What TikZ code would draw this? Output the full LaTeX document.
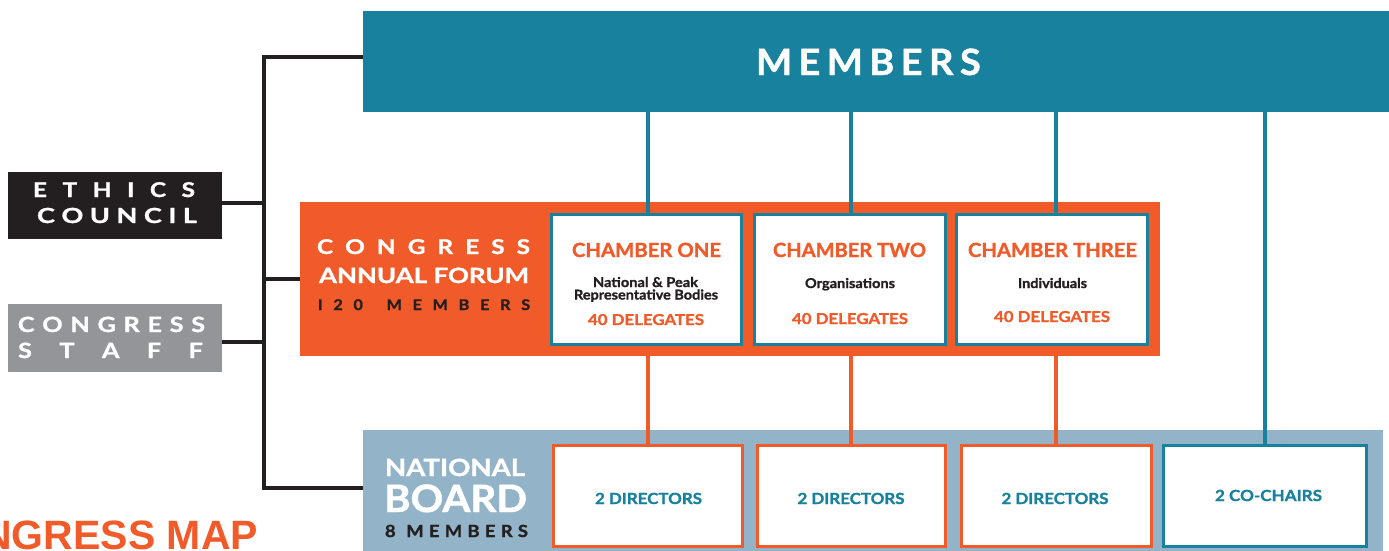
\documentclass[tikz,border=0pt]{standalone}
\usepackage{fontspec}
\usepackage{graphicx}
\setmainfont{Lato}[BoldFeatures={FakeBold=1.2}]
\newfontfamily\titlefont{Liberation Sans}
\definecolor{cteal}{HTML}{17819E}
\definecolor{corange}{HTML}{F15A29}
\definecolor{cblue}{HTML}{93B4C8}
\definecolor{cblack}{HTML}{231F20}
\definecolor{cgray}{HTML}{939598}
\newcommand\spreadtext[2]{\makebox[#1][s]{#2}}
\newcommand\wspread[3]{\scalebox{#2}[1]{\makebox[#1][s]{#3}}}
\newcommand\fitw[2]{\resizebox{#1}{\height}{#2}}
\newcommand\fs[1]{\fontsize{#1}{#1}\selectfont\bfseries}
\tikzset{
  panel/.style={rectangle, inner sep=0pt, outer sep=0pt},
  cbox/.style={rectangle, inner sep=0pt, outer sep=0pt, fill=white, line width=3pt},
  lbl/.style={inner sep=0pt, outer sep=0pt, anchor=base},
  blackline/.style={draw=cblack, line width=4pt, line join=miter},
  tealline/.style={draw=cteal, line width=4.5pt},
  orangeline/.style={draw=corange, line width=4pt}
}
\begin{document}
\begin{tikzpicture}[x=1pt, y=-1pt]
\useasboundingbox (0,0) rectangle (1389,551);
\clip (0,0) rectangle (1389,551);

% background panels
\node[panel, fill=cteal, minimum width=1030pt, minimum height=101pt, anchor=north west] (members) at (363,11) {};
\node[panel, fill=corange, minimum width=860pt, minimum height=154pt, anchor=north west] (forum) at (300,202) {};
\node[panel, fill=cblue, minimum width=1020pt, minimum height=125pt, anchor=north west] (board) at (363,430) {};
\node[panel, fill=cblack, minimum width=214pt, minimum height=67pt, anchor=north west] (ethics) at (8,172) {};
\node[panel, fill=cgray, minimum width=214pt, minimum height=68pt, anchor=north west] (staff) at (8,304) {};

% junction coordinates of the black tree
\coordinate (jTop) at (264,57);
\coordinate (jEth) at (264,203);
\coordinate (jFor) at (264,279);
\coordinate (jSta) at (264,342);
\coordinate (jBot) at (264,488);

% chamber boxes
\node[cbox, draw=cteal, minimum width=190pt, minimum height=130pt] (ch1) at (646.5,279.5) {};
\node[cbox, draw=cteal, minimum width=191pt, minimum height=130pt] (ch2) at (850,279.5) {};
\node[cbox, draw=cteal, minimum width=191pt, minimum height=130pt] (ch3) at (1052,279.5) {};

% board boxes
\node[cbox, draw=corange, minimum width=189pt, minimum height=101pt] (lb1) at (648,496) {};
\node[cbox, draw=corange, minimum width=188pt, minimum height=101pt] (lb2) at (851,496) {};
\node[cbox, draw=corange, minimum width=190pt, minimum height=101pt] (lb3) at (1056,496) {};
\node[cbox, draw=cteal, minimum width=203pt, minimum height=101pt] (lb4) at (1265,496) {};

% black tree connectors
\draw[blackline] (members.west |- jTop) -- (jTop) -- (jBot) -- (board.west |- jBot);
\draw[blackline] (ethics.east |- jEth) -- (jEth);
\draw[blackline] (jFor) -- (forum.west |- jFor);
\draw[blackline] (staff.east |- jSta) -- (jSta);

% teal connectors
\draw[tealline] (members.south -| lb1.north) -- ([yshift=1.5pt]ch1.north -| lb1.north);
\draw[tealline] (members.south -| lb2.north) -- ([yshift=1.5pt]ch2.north -| lb2.north);
\draw[tealline] (members.south -| lb3.north) -- ([yshift=1.5pt]ch3.north -| lb3.north);
\draw[tealline] (members.south -| lb4.north) -- ([yshift=1.5pt]lb4.north);

% orange connectors
\draw[orangeline] ([yshift=-1.5pt]ch1.south -| lb1.north) -- ([yshift=1.5pt]lb1.north);
\draw[orangeline] ([yshift=-1.5pt]ch2.south -| lb2.north) -- ([yshift=1.5pt]lb2.north);
\draw[orangeline] ([yshift=-1.5pt]ch3.south -| lb3.north) -- ([yshift=1.5pt]lb3.north);

% redraw box outlines above connector ends
\foreach \n/\c in {ch1/cteal,ch2/cteal,ch3/cteal,lb1/corange,lb2/corange,lb3/corange,lb4/cteal}{
  \draw[draw=\c, line width=3pt] (\n.north west) rectangle (\n.south east);
}

% texts
\node[lbl, text=white] (tMembers) at (868.5,75) {\fs{36.3}\wspread{214pt}{1.05}{M\hfil E\hfil M\hfil B\hfil E\hfil R\hfil S}};

\node[lbl, text=white] (tEthics) at (114,197) {\fs{20.3}\wspread{135pt}{1.2}{E\hfil T\hfil H\hfil I\hfil C\hfil S}};
\node[lbl, text=white] (tCouncil) at (117,223) {\fs{20.8}\wspread{123pt}{1.3}{C\hfil O\hfil U\hfil N\hfil C\hfil I\hfil L}};

\node[lbl, text=white] (tStaff1) at (111.5,332) {\fs{21}\wspread{156pt}{1.2}{C\hfil O\hfil N\hfil G\hfil R\hfil E\hfil S\hfil S}};
\node[lbl, text=white] (tStaff2) at (110.5,358) {\fs{21}\wspread{154pt}{1.2}{S\hfil T\hfil A\hfil F\hfil F}};

\node[lbl, text=white] (tForum1) at (423.5,254) {\fs{20.3}\wspread{177.5pt}{1.2}{C\hfil O\hfil N\hfil G\hfil R\hfil E\hfil S\hfil S}};
\node[lbl, text=white] (tForum2) at (424,283) {\fs{21}\fitw{210pt}{ANNUAL FORUM}};
\node[lbl, text=cblack] (tForum3) at (424,310) {\fs{14.7}\wspread{193pt}{1.1}{I\hfil 2\hfil 0\hspace{0pt plus 2.2fil}M\hfil E\hfil M\hfil B\hfil E\hfil R\hfil S}};

\node[lbl, text=white] (tBoard1) at (455,476) {\fs{23.7}\fitw{140pt}{NATIONAL}};
\node[lbl, text=white] (tBoard2) at (455.5,512) {\fs{37.7}\fitw{143pt}{BOARD}};
\node[lbl, text=cblack] (tBoard3) at (456.5,537) {\fs{16.7}\wspread{130pt}{1.1}{8\hspace{0pt plus 2fil}M\hfil E\hfil M\hfil B\hfil E\hfil R\hfil S}};

\node[lbl, text=corange] (tCh1) at (646.5,257) {\fs{19.5}\fitw{149pt}{CHAMBER ONE}};
\node[lbl, text=corange] (tCh2) at (849.5,257) {\fs{19.5}\fitw{153pt}{CHAMBER TWO}};
\node[lbl, text=corange] (tCh3) at (1052.5,257) {\fs{19.5}\fitw{169pt}{CHAMBER THREE}};

\node[lbl, text=cblack] (tCh1a) at (645.5,287) {\fs{13.5}\fitw{105pt}{National \& Peak}};
\node[lbl, text=cblack] (tCh1b) at (646,299.5) {\fs{13.5}\fitw{144pt}{Representative Bodies}};
\node[lbl, text=cblack] (tCh2a) at (850,288) {\fs{13.5}\fitw{90pt}{Organisations}};
\node[lbl, text=cblack] (tCh3a) at (1052.5,288) {\fs{13.5}\fitw{69pt}{Individuals}};

\node[lbl, text=corange] (tDel1) at (646,325) {\fs{15}\fitw{116pt}{40 DELEGATES}};
\node[lbl, text=corange] (tDel2) at (850,324) {\fs{15}\fitw{116pt}{40 DELEGATES}};
\node[lbl, text=corange] (tDel3) at (1052,322) {\fs{15}\fitw{116pt}{40 DELEGATES}};

\node[lbl, text=cteal] (tDir1) at (648.5,504) {\fs{15.3}\fitw{107pt}{2 DIRECTORS}};
\node[lbl, text=cteal] (tDir2) at (851,504) {\fs{15.3}\fitw{107pt}{2 DIRECTORS}};
\node[lbl, text=cteal] (tDir3) at (1055,504) {\fs{15.3}\fitw{107pt}{2 DIRECTORS}};
\node[lbl, text=cteal] (tChairs) at (1268.5,501) {\fs{15.3}\fitw{107pt}{2 CO-CHAIRS}};

% partially visible title
\node[inner sep=0pt, outer sep=0pt, anchor=base east, text=corange] (title) at (258,549) {\titlefont\fontsize{41}{41}\selectfont\bfseries CONGRESS MAP};
\end{tikzpicture}
\end{document}
